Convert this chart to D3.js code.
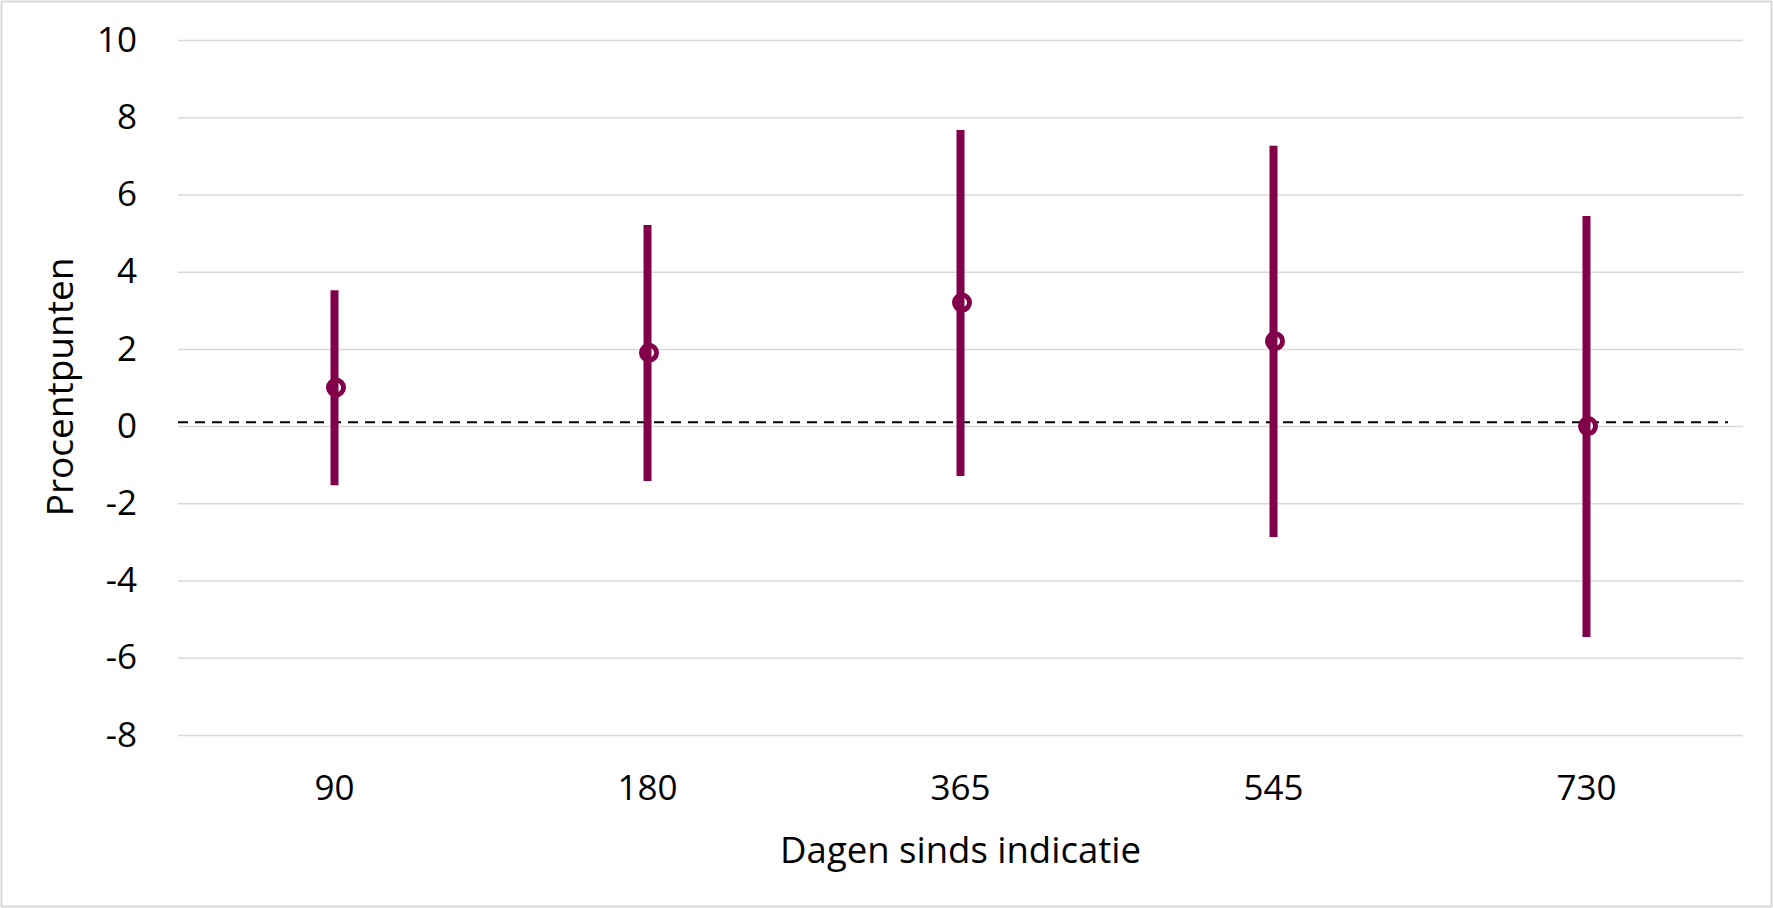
<!DOCTYPE html>
<html>
<head>
<meta charset="utf-8">
<script src="https://cdn.jsdelivr.net/npm/d3@7"></script>
<style>
  body { margin: 0; background: #fff; }
  svg { display: block; font-family: "Open Sans", sans-serif; }
</style>
</head>
<body>
<svg></svg>
<script>
// gegevens
const categories = ["90", "180", "365", "545", "730"];
const estimate = [1.0, 1.9, 3.2, 2.2, 0.0];
const lower = [-1.53, -1.42, -1.29, -2.87, -5.46];
const upper = [3.52, 5.21, 7.67, 7.26, 5.44];
const yTicks = [-8, -6, -4, -2, 0, 2, 4, 6, 8, 10];
const refValue = 0.1; // gestippelde referentielijn

const width = 1773;
const height = 908;
const margin = { top: 40, right: 30, bottom: 173, left: 178 };
const color = "#82004a";

const svg = d3.select("svg")
    .attr("width", width)
    .attr("height", height);

// rand rond de grafiek
svg.append("rect")
    .attr("x", 1.5).attr("y", 1.5)
    .attr("width", width - 3).attr("height", height - 3)
    .attr("fill", "none")
    .attr("stroke", "#d9d9d9")
    .attr("stroke-width", 2);

const x = d3.scaleBand()
    .domain(categories)
    .range([margin.left, width - margin.right]);

const y = d3.scaleLinear()
    .domain([-8, 10])
    .range([height - margin.bottom, margin.top]);

// rasterlijnen + y-as labels
const yAxis = svg.append("g")
    .attr("transform", `translate(${margin.left},0)`)
    .call(d3.axisLeft(y)
        .tickValues(yTicks)
        .tickSize(-(width - margin.left - margin.right))
        .tickPadding(41)
        .tickFormat(d => String(d)));
yAxis.select(".domain").remove();
yAxis.selectAll(".tick line")
    .attr("stroke", "#d9d9d9")
    .attr("stroke-width", 1.5);
yAxis.selectAll(".tick text")
    .attr("font-size", 35)
    .attr("fill", "#000")
    .attr("font-family", "Open Sans");

// x-as labels
const xAxis = svg.append("g")
    .attr("transform", `translate(0,${height - margin.bottom})`)
    .call(d3.axisBottom(x).tickSize(0).tickPadding(40));
xAxis.select(".domain").remove();
xAxis.selectAll(".tick text")
    .attr("font-size", 35)
    .attr("fill", "#000")
    .attr("font-family", "Open Sans");

// gestippelde lijn
svg.append("line")
    .attr("x1", margin.left)
    .attr("x2", width - margin.right - 15)
    .attr("y1", y(refValue))
    .attr("y2", y(refValue))
    .attr("stroke", "#000")
    .attr("stroke-width", 2)
    .attr("stroke-dasharray", "10,7");

const data = categories.map((c, i) => ({ cat: c, est: estimate[i], lo: lower[i], hi: upper[i] }));

// punten (onder de balken)
svg.selectAll(".point")
    .data(data)
    .enter().append("circle")
    .attr("class", "point")
    .attr("cx", d => x(d.cat) + x.bandwidth() / 2 + 1.5)
    .attr("cy", d => y(d.est))
    .attr("r", 7.5)
    .attr("fill", "#fff")
    .attr("stroke", color)
    .attr("stroke-width", 5);

// betrouwbaarheidsintervallen
svg.selectAll(".ci")
    .data(data)
    .enter().append("line")
    .attr("class", "ci")
    .attr("x1", d => x(d.cat) + x.bandwidth() / 2)
    .attr("x2", d => x(d.cat) + x.bandwidth() / 2)
    .attr("y1", d => y(d.hi))
    .attr("y2", d => y(d.lo))
    .attr("stroke", color)
    .attr("stroke-width", 8);

// as-titels
svg.append("text")
    .attr("x", (margin.left + width - margin.right) / 2)
    .attr("y", 863)
    .attr("text-anchor", "middle")
    .attr("font-size", 36.5)
    .text("Dagen sinds indicatie");

svg.append("text")
    .attr("transform", `translate(73,${387}) rotate(-90)`)
    .attr("text-anchor", "middle")
    .attr("font-size", 37)
    .text("Procentpunten");
</script>
</body>
</html>
